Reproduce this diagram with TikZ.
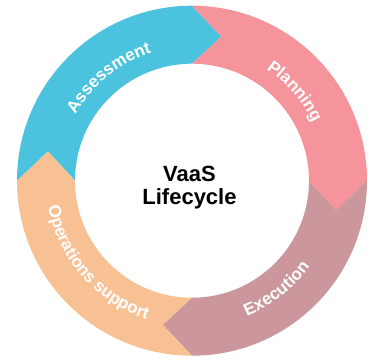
\documentclass[tikz,border=0pt]{standalone}
\usepackage{fontspec}
\setmainfont{Liberation Sans}
\usetikzlibrary{decorations.text}
\definecolor{cblue}{RGB}{75,195,222}
\definecolor{cpink}{RGB}{245,148,155}
\definecolor{cmauve}{RGB}{203,151,156}
\definecolor{cpeach}{RGB}{248,193,148}
\begin{document}
\begin{tikzpicture}[x=1pt,y=1pt,
  seg/.style={fill=#1,draw=none},
  ringtext/.style={font=\bfseries\fontsize{17}{20}\selectfont,decorate,decoration={text along path,text align=center,text color=white,
    text={|\bfseries\fontsize{17}{20}\selectfont|#1}}}]
\useasboundingbox (-192,-179.3) rectangle (176,180.7);
% segments
\fill[seg=cblue] (180:175) arc[start angle=180,end angle=90,radius=175] -- (78.5:147) -- (90:117) arc[start angle=90,end angle=180,radius=117] -- (168.5:147) -- cycle;
\fill[seg=cpink] (90:175) arc[start angle=90,end angle=0,radius=175] -- (-11.5:147) -- (0:117) arc[start angle=0,end angle=90,radius=117] -- (78.5:147) -- cycle;
\fill[seg=cmauve] (0:175) arc[start angle=0,end angle=-90,radius=175] -- (-101.5:147) -- (-90:117) arc[start angle=-90,end angle=0,radius=117] -- (-11.5:147) -- cycle;
\fill[seg=cpeach] (-90:175) arc[start angle=-90,end angle=-180,radius=175] -- (-191.5:147) -- (-180:117) arc[start angle=-180,end angle=-90,radius=117] -- (-101.5:147) -- cycle;
% labels
\path[ringtext=Assessment] (169:134) arc[start angle=169,end angle=89,radius=134];
\path[ringtext=Planning] (81:134) arc[start angle=81,end angle=1,radius=134];
\path[ringtext=Execution] (-92:146) arc[start angle=-92,end angle=-12,radius=146];
\path[ringtext=Operations support] (181:146) arc[start angle=181,end angle=261,radius=146];
\node[font=\fontsize{22}{23}\selectfont\bfseries,align=center,inner sep=0pt] (title) at (-2.5,-7) {VaaS\\Lifecycle};
\end{tikzpicture}
\end{document}
